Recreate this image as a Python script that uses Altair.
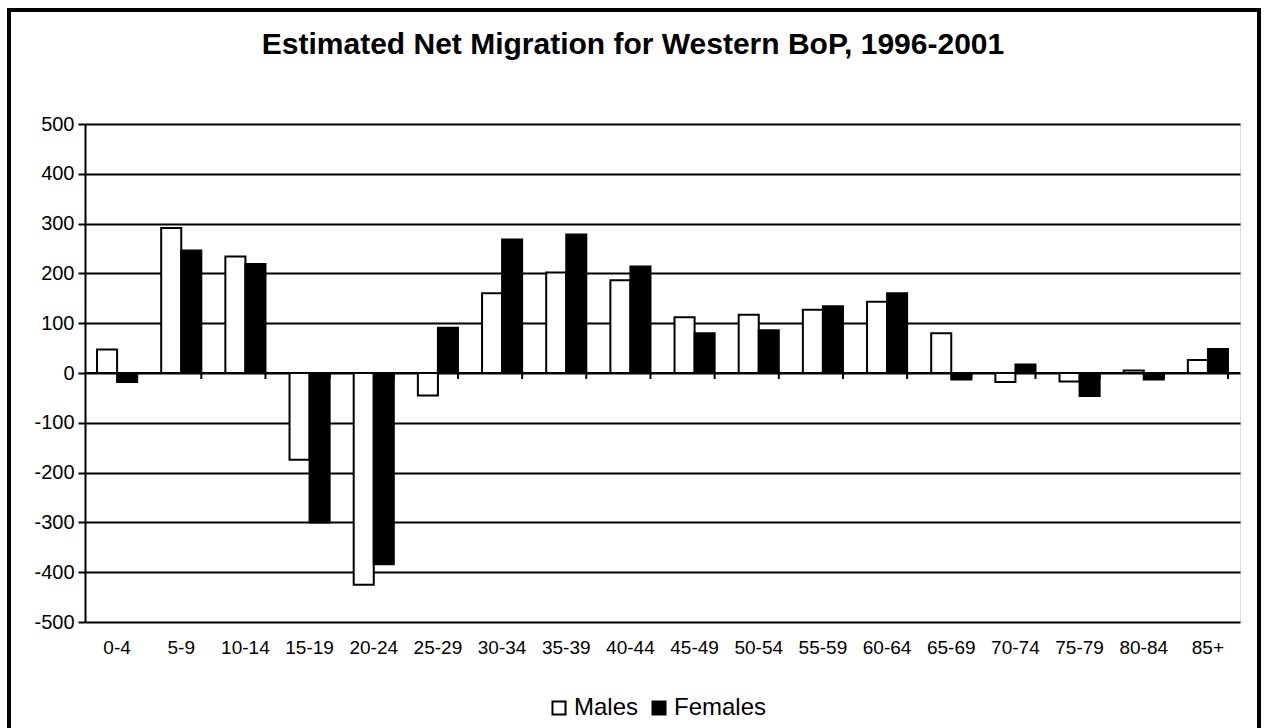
import altair as alt
import pandas as pd

# Age groups and estimated net migration (persons), 1996-2001
age_groups = ["0-4", "5-9", "10-14", "15-19", "20-24", "25-29", "30-34", "35-39",
              "40-44", "45-49", "50-54", "55-59", "60-64", "65-69", "70-74",
              "75-79", "80-84", "85+"]
males = [47, 291, 234, -174, -425, -45, 160, 202, 186, 112, 117, 127, 143, 80,
         -18, -17, 5, 26]
females = [-18, 246, 219, -300, -384, 91, 268, 278, 214, 80, 86, 134, 160, -13,
           17, -46, -13, 48]
y_ticks = [-500, -400, -300, -200, -100, 0, 100, 200, 300, 400, 500]
sexes = ["Males", "Females"]
title_text = "Estimated Net Migration for Western BoP, 1996-2001"

FONT = "Liberation Sans"

rows = []
for g, m, f in zip(age_groups, males, females):
    rows.append({"age": g, "sex": "Males", "value": m})
    rows.append({"age": g, "sex": "Females", "value": f})
df = pd.DataFrame(rows)
cats_df = pd.DataFrame({"age": age_groups})

x_scale = alt.Scale(domain=age_groups, paddingInner=0.375, paddingOuter=0.1875)
y_scale = alt.Scale(domain=[-500, 500], nice=False)

bars = alt.Chart(df).mark_bar(stroke="black", strokeWidth=2, opacity=1).encode(
    x=alt.X("age:N", scale=x_scale, sort=age_groups,
            axis=alt.Axis(title=None, labelAngle=0, domain=False, ticks=False,
                          labelFont=FONT, labelFontSize=19, labelColor="black",
                          labelPadding=16)),
    xOffset=alt.XOffset("sex:N", sort=sexes,
                        scale=alt.Scale(domain=sexes, paddingInner=0, paddingOuter=0)),
    y=alt.Y("value:Q", scale=y_scale,
            axis=alt.Axis(title=None, values=y_ticks, grid=True, gridColor="black",
                          gridWidth=2, gridOpacity=1, domainColor="black",
                          domainWidth=2, tickColor="black", tickSize=7,
                          tickWidth=2, labelFont=FONT, labelFontSize=20,
                          labelColor="black", labelPadding=4,
                          labelExpr="'' + datum.value")),
    fill=alt.Fill("sex:N", sort=sexes,
                  scale=alt.Scale(domain=sexes, range=["white", "black"]),
                  legend=alt.Legend(title=None, orient="none", direction="horizontal",
                                    legendX=462, legendY=572, symbolType="square",
                                    symbolSize=170, symbolStrokeColor="black",
                                    symbolStrokeWidth=2, labelFont=FONT,
                                    labelFontSize=24, labelColor="black",
                                    labelOffset=3, columnPadding=8)),
)

# zero line across the plot
zero_line = alt.Chart(cats_df).mark_rule(color="black", strokeWidth=2).encode(
    y=alt.datum(0, scale=y_scale),
    x=alt.value(0), x2=alt.value(1155),
)

# category boundary ticks hanging below the zero line
cat_ticks = alt.Chart(cats_df).mark_rule(color="black", strokeWidth=2).encode(
    x=alt.X("age:N", scale=x_scale, sort=age_groups, bandPosition=1),
    y=alt.datum(0, scale=y_scale),
    y2=alt.datum(-12),
)

# outer frame around the whole figure
frame = alt.Chart(cats_df).mark_rect(fill=None, stroke="black", strokeWidth=3).encode(
    x=alt.value(-76), x2=alt.value(1174), y=alt.value(-114), y2=alt.value(620),
)

# chart heading
heading = alt.Chart(pd.DataFrame({"t": [title_text]})).mark_text(
    font=FONT, fontSize=30, fontWeight="bold", color="black",
    align="center", baseline="alphabetic",
).encode(text="t:N", x=alt.value(548), y=alt.value(-70))

chart = alt.layer(bars, zero_line, cat_ticks, frame, heading).properties(
    width=1155, height=498,
    padding={"left": 85, "top": 124, "right": 33, "bottom": 106},
    autosize=alt.AutoSizeParams(type="none"),
).configure_view(strokeWidth=0).configure(background="white")

chart.save("out.html", embed_options={"renderer": "svg", "actions": False})
